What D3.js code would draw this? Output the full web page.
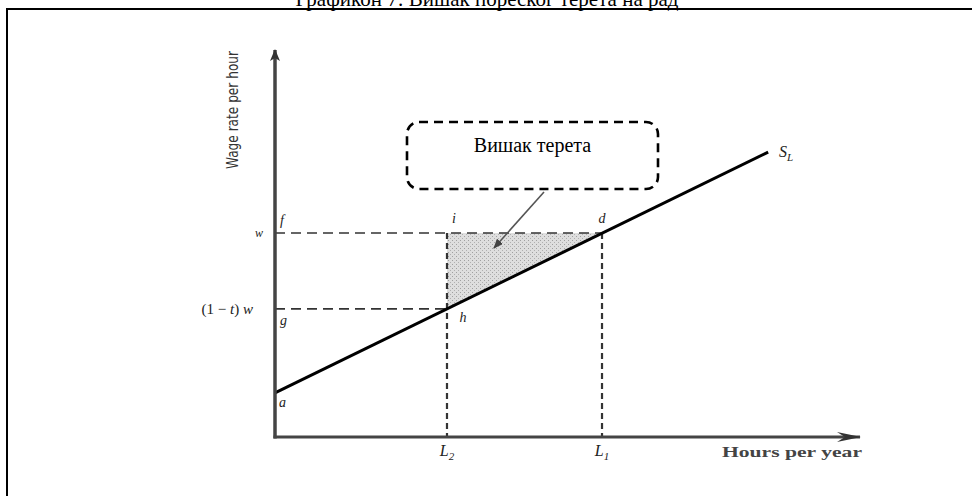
<!DOCTYPE html>
<html><head><meta charset="utf-8">
<script src="https://cdn.jsdelivr.net/npm/d3@7"></script>
<style>html,body{margin:0;padding:0;background:#fff;} svg{display:block;}</style>
</head><body>
<script>
// ---- data ----
const title = "Графикон 7: Вишак пореског терета на рад";
const axisDomainX = [0, 100];
const axisDomainY = [0, 100];
const supplyX = [0, 84.3];          // hours
const supplyY = [11.4, 73.6];       // wage
const wageGross = 52.7;             // w
const wageNet = 33.1;               // (1 - t) w
const hoursL2 = 29.4;
const hoursL1 = 55.9;
const calloutText = "Вишак терета";
const yAxisTitle = "Wage rate per hour";
const xAxisTitle = "Hours per year";

const W = 972, H = 496;
const svg = d3.select("body").append("svg").attr("width", W).attr("height", H);

const x = d3.scaleLinear().domain(axisDomainX).range([275, 860]);
const y = d3.scaleLinear().domain(axisDomainY).range([437, 50]);

// frame and clipped title (the reference shows only its lower half)
svg.append("text").attr("x", 487).attr("y", 6)
  .attr("text-anchor", "middle").attr("font-family", "Liberation Serif")
  .attr("font-size", 21).attr("fill", "#000").text(title);
svg.append("line").attr("x1", 6).attr("x2", W).attr("y1", 9).attr("y2", 9).attr("stroke", "#000").attr("stroke-width", 2);
svg.append("line").attr("x1", 7).attr("x2", 7).attr("y1", 8).attr("y2", H).attr("stroke", "#000").attr("stroke-width", 2);

const defs = svg.append("defs");
const pat = defs.append("pattern").attr("id", "stip").attr("width", 4).attr("height", 4).attr("patternUnits", "userSpaceOnUse");
pat.append("rect").attr("width", 4).attr("height", 4).attr("fill", "#dedede");
pat.append("rect").attr("x", 0).attr("y", 0).attr("width", 1).attr("height", 1).attr("fill", "#a0a0a0");
pat.append("rect").attr("x", 2).attr("y", 2).attr("width", 1).attr("height", 1).attr("fill", "#b0b0b0");

defs.append("marker").attr("id", "axArrow").attr("viewBox", "0 0 12 10").attr("refX", 11).attr("refY", 5)
  .attr("markerWidth", 12).attr("markerHeight", 10).attr("markerUnits", "userSpaceOnUse").attr("orient", "auto")
  .append("path").attr("d", "M0,0 L12,5 L0,10 L3,5 Z").attr("fill", "#333");
defs.append("marker").attr("id", "axArrowX").attr("viewBox", "0 0 24 12").attr("refX", 23).attr("refY", 6)
  .attr("markerWidth", 24).attr("markerHeight", 12).attr("markerUnits", "userSpaceOnUse").attr("orient", "auto")
  .append("path").attr("d", "M0,1 L24,6 L0,11 L8,6 Z").attr("fill", "#333");
defs.append("marker").attr("id", "callArrow").attr("viewBox", "0 0 10 8").attr("refX", 9).attr("refY", 4)
  .attr("markerWidth", 10).attr("markerHeight", 8).attr("markerUnits", "userSpaceOnUse").attr("orient", "auto")
  .append("path").attr("d", "M0,0 L10,4 L0,8 Z").attr("fill", "#444");

// shaded excess-burden triangle i-d-h
svg.append("path")
  .attr("d", d3.line()([[x(hoursL2), y(wageGross)], [x(hoursL1), y(wageGross)], [x(hoursL2), y(wageNet)]]) + "Z")
  .attr("fill", "url(#stip)").attr("stroke", "none");

// dashed guide lines
const dashH = "10,6", dashV = "6,4";
svg.append("line").attr("x1", x(0)).attr("x2", x(hoursL1)).attr("y1", y(wageGross)).attr("y2", y(wageGross))
  .attr("stroke", "#333").attr("stroke-width", 1.6).attr("stroke-dasharray", dashH);
svg.append("line").attr("x1", x(0)).attr("x2", x(hoursL2)).attr("y1", y(wageNet)).attr("y2", y(wageNet))
  .attr("stroke", "#333").attr("stroke-width", 1.6).attr("stroke-dasharray", dashH);
[hoursL2, hoursL1].forEach(h => {
  svg.append("line").attr("x1", x(h)).attr("x2", x(h)).attr("y1", y(wageGross)).attr("y2", y(0))
    .attr("stroke", "#333").attr("stroke-width", 2.2).attr("stroke-dasharray", dashV);
});

// supply curve
svg.append("line").attr("x1", x(supplyX[0])).attr("y1", y(supplyY[0]))
  .attr("x2", x(supplyX[1])).attr("y2", y(supplyY[1]))
  .attr("stroke", "#000").attr("stroke-width", 3);

// axes
svg.append("line").attr("x1", x(0)).attr("x2", x(0)).attr("y1", y(0) + 1.5).attr("y2", y(axisDomainY[1]))
  .attr("stroke", "#444").attr("stroke-width", 3.5).attr("marker-end", "url(#axArrow)");
svg.append("line").attr("x1", x(0) - 1.5).attr("x2", x(axisDomainX[1])).attr("y1", y(0)).attr("y2", y(0))
  .attr("stroke", "#444").attr("stroke-width", 3).attr("marker-end", "url(#axArrowX)");

// axis titles
svg.append("text").attr("transform", `translate(238,${(y(axisDomainY[1]) + 170) / 2}) rotate(-90)`)
  .attr("text-anchor", "middle").attr("font-family", "DejaVu Sans Condensed, DejaVu Sans")
  .attr("font-size", 15).attr("fill", "#333")
  .attr("textLength", 118).attr("lengthAdjust", "spacingAndGlyphs").text(yAxisTitle);
svg.append("text").attr("x", 792).attr("y", 457).attr("text-anchor", "middle")
  .attr("font-family", "Liberation Serif").attr("font-weight", "bold").attr("font-size", 15)
  .attr("fill", "#444").attr("textLength", 140).attr("lengthAdjust", "spacingAndGlyphs").text(xAxisTitle);

// point labels
const lab = (tx, ty, s, anchor) => svg.append("text").attr("x", tx).attr("y", ty)
  .attr("text-anchor", anchor || "start").attr("font-family", "Liberation Serif")
  .attr("font-style", "italic").attr("font-size", 14).attr("fill", "#222").text(s);
lab(x(0) + 5, y(wageGross) - 8, "f");
lab(x(hoursL2) + 7, y(wageGross) - 10, "i", "middle");
lab(x(hoursL1), y(wageGross) - 10, "d", "middle");
lab(x(0) + 5, y(wageNet) + 16, "g");
lab(x(hoursL2) + 16, y(wageNet) + 13, "h", "middle");
lab(x(0) + 4, y(supplyY[0]) + 14, "a");
lab(x(0) - 12, y(wageGross) + 4, "w", "end").attr("font-size", 12);
const lt = svg.append("text").attr("x", x(0) - 22).attr("y", y(wageNet) + 5).attr("text-anchor", "end")
  .attr("font-family", "Liberation Serif").attr("font-size", 15).attr("fill", "#222");
lt.append("tspan").text("(1 − ");
lt.append("tspan").attr("font-style", "italic").text("t");
lt.append("tspan").text(") ");
lt.append("tspan").attr("font-style", "italic").text("w");

const subLab = (tx, ty, main, sub) => {
  const t = svg.append("text").attr("x", tx).attr("y", ty).attr("text-anchor", "middle")
    .attr("font-family", "Liberation Serif").attr("font-style", "italic").attr("font-size", 16).attr("fill", "#222");
  t.append("tspan").text(main);
  t.append("tspan").attr("dy", 4).attr("font-size", 11).text(sub);
  return t;
};
subLab(x(hoursL2), 456, "L", "2");
subLab(x(hoursL1), 456, "L", "1");
subLab(x(supplyX[1]) + 18, y(supplyY[1]) + 5, "S", "L");

// callout box
const bx = 407, by = 122, bw = 251, bh = 67;
svg.append("rect").attr("x", bx).attr("y", by).attr("width", bw).attr("height", bh)
  .attr("rx", 12).attr("ry", 12).attr("fill", "#fff").attr("stroke", "#000")
  .attr("stroke-width", 2.6).attr("stroke-dasharray", "9,6");
svg.append("text").attr("x", bx + bw / 2).attr("y", by + bh / 2 - 4).attr("text-anchor", "middle")
  .attr("font-family", "Liberation Serif").attr("font-size", 20).attr("fill", "#000").text(calloutText);
svg.append("line").attr("x1", 544).attr("y1", by + bh + 3).attr("x2", 494).attr("y2", 248)
  .attr("stroke", "#555").attr("stroke-width", 1.6).attr("marker-end", "url(#callArrow)");
</script>
</body></html>
